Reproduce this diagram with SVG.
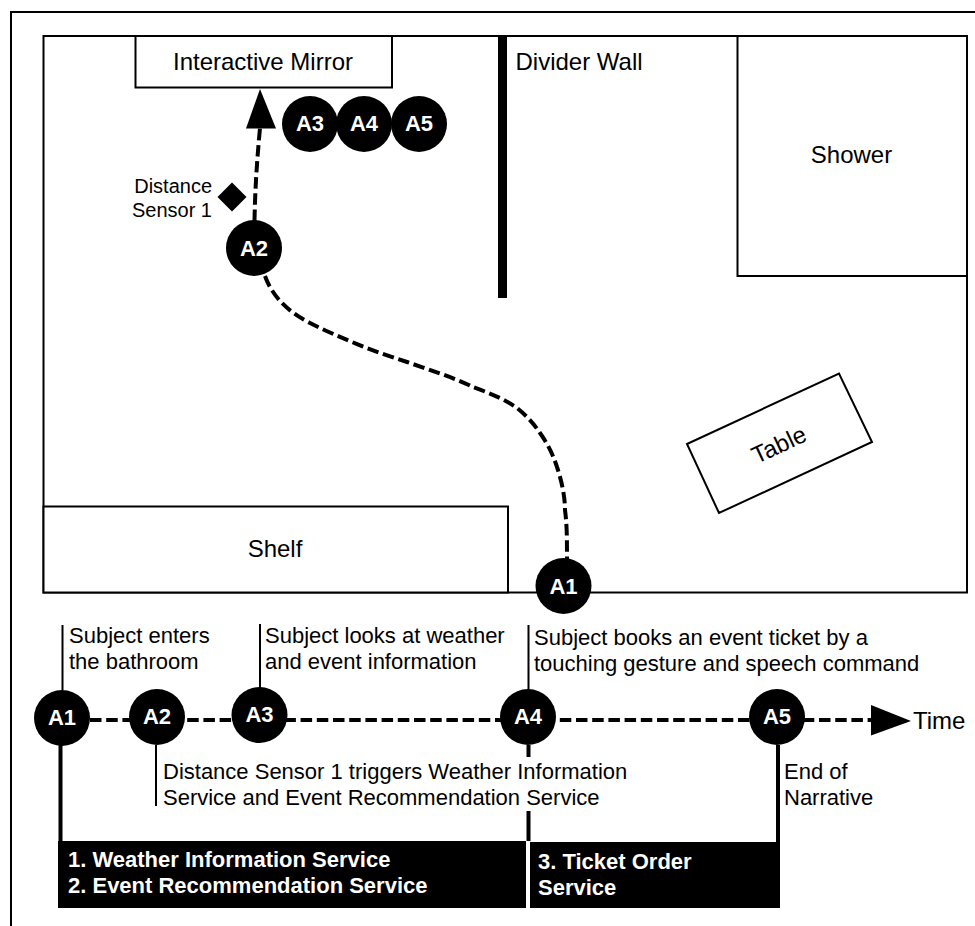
<svg xmlns="http://www.w3.org/2000/svg" width="975" height="926" viewBox="0 0 975 926">
<style>
text{font-family:"Liberation Sans",Arial,Helvetica,sans-serif;fill:#000}
.l{font-size:24px}.m{font-size:22px}.s{font-size:20px}
.c{text-anchor:middle}
.b{font-size:22px;font-weight:bold;fill:#fff}
.n{font-size:22px;font-weight:bold;fill:#fff;text-anchor:middle}
.box{fill:#fff;stroke:#000;stroke-width:2}
.dash{fill:none;stroke:#000;stroke-width:4;stroke-dasharray:11.500 4.700}
.th{stroke:#000;stroke-width:2;fill:none}
.tk{stroke:#000;stroke-width:4;fill:none}
</style>
<rect width="975" height="926" fill="#fff"/>
<path id="frame" d="M11 926V12H975" class="th"/>
<g id="room"><rect x="43.500" y="36" width="923.500" height="556.500" class="box"/></g>
<g id="shelf"><rect x="43.500" y="506.500" width="464.500" height="86" class="box"/><text x="275" y="557" class="l c">Shelf</text></g>
<g id="mirror"><rect x="135.500" y="36" width="256.500" height="51.500" class="box"/><text x="263" y="70" class="l c">Interactive Mirror</text></g>
<g id="divider"><rect x="498" y="36" width="9" height="262"/><text x="515.500" y="70" class="l">Divider Wall</text></g>
<g id="shower"><rect x="737.500" y="36" width="229.500" height="240" class="box"/><text x="851.500" y="163" class="l c">Shower</text></g>
<g id="table"><path d="M687 444L839 373.500L872 442L719 513Z" class="box"/><text x="779" y="453" class="l c" transform="rotate(-25 779 445)">Table</text></g>
<g id="sensor"><path d="M232 182.500L246.500 197L232 211.500L217.500 197Z"/><text x="212" y="193" class="s" text-anchor="end">Distance</text><text x="212" y="217" class="s" text-anchor="end">Sensor 1</text></g>
<g id="connectors">
<path class="dash" d="M265 276C272 296 288 312 310 323C340 338 375 352 407 362C430 370 455 378 473 387C492 394 506 400 517 408C528 417 534 424 540 433C550 447 554 458 557 467C562 482 565 497 565 510C567 525 567 540 567 560"/>
<path class="dash" d="M254.500 221C255 190 257 160 260 128"/>
<path d="M260 89L276 128.500H246Z"/>
<path class="dash" d="M90 720H871"/>
<path d="M871 705L911 721L871 735.500Z"/>
<path class="th" d="M62.500 625V690M260 624V688M528.500 625V690M156 745V806"/>
<path class="tk" d="M60.500 745V842M778 745V842M528.500 745V757M528.500 811V841"/>
</g>
<g id="path-a1"><circle cx="563.500" cy="586" r="28"/><text x="563.500" y="594" class="n">A1</text></g>
<g id="path-a2"><circle cx="254" cy="248" r="28"/><text x="254" y="256" class="n">A2</text></g>
<g id="path-a3"><circle cx="310" cy="124" r="28"/><text x="310" y="131" class="n">A3</text></g>
<g id="path-a4"><circle cx="364" cy="124" r="28"/><text x="364" y="131" class="n">A4</text></g>
<g id="path-a5"><circle cx="419" cy="124" r="28"/><text x="419" y="131" class="n">A5</text></g>
<g id="time-a1"><circle cx="62" cy="718" r="28"/><text x="62" y="725" class="n">A1</text></g>
<g id="time-a2"><circle cx="157" cy="717" r="28"/><text x="157" y="724" class="n">A2</text></g>
<g id="time-a3"><circle cx="259.500" cy="715" r="28"/><text x="259.500" y="722" class="n">A3</text></g>
<g id="time-a4"><circle cx="528" cy="717" r="28"/><text x="528" y="724" class="n">A4</text></g>
<g id="time-a5"><circle cx="777" cy="717" r="28"/><text x="777" y="724" class="n">A5</text></g>
<g id="labels">
<text x="69" y="643" class="m">Subject enters</text><text x="69" y="669" class="m">the bathroom</text>
<text x="265" y="643" class="m">Subject looks at weather</text><text x="265" y="669" class="m">and event information</text>
<text x="534" y="645" class="m">Subject books an event ticket by a</text><text x="534" y="671" class="m">touching gesture and speech command</text>
<text x="163" y="779" class="m">Distance Sensor 1 triggers Weather Information</text><text x="163" y="805" class="m">Service and Event Recommendation Service</text>
<text x="784" y="779" class="m">End of</text><text x="784" y="805" class="m">Narrative</text>
<text x="913" y="729" class="l">Time</text>
</g>
<g id="service-1"><rect x="58" y="841" width="468" height="67"/><text x="68" y="867" class="b">1. Weather Information Service</text><text x="68" y="893" class="b">2. Event Recommendation Service</text></g>
<g id="service-3"><rect x="530" y="842" width="250" height="66"/><text x="538" y="869" class="b">3. Ticket Order</text><text x="538" y="895" class="b">Service</text></g>
</svg>
